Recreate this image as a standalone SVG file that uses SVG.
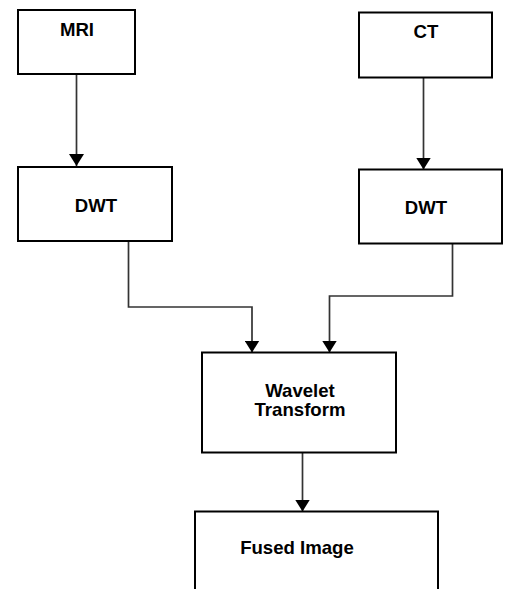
<svg xmlns="http://www.w3.org/2000/svg" width="505" height="589" viewBox="0 0 505 589">
<style>
.box{fill:#fff;stroke:#000;stroke-width:2}
.lbl{font-family:"Liberation Sans",Arial,sans-serif;font-weight:bold;font-size:18.6px;fill:#000;text-anchor:middle}
.con{fill:none;stroke:#333;stroke-width:1.7}
</style>
<defs>
<marker id="ah" viewBox="0 0 12 15" refX="12" refY="7.5" markerWidth="12" markerHeight="15" markerUnits="userSpaceOnUse" orient="auto">
<path d="M0,0 L12,7.5 L0,15 z" fill="#000"/>
</marker>
</defs>
<rect width="505" height="589" fill="#fff"/>
<g id="connectors">
<path class="con" d="M76.5,74 V166" marker-end="url(#ah)"/>
<path class="con" d="M423.5,77.5 V169.5" marker-end="url(#ah)"/>
<path class="con" d="M128.5,241 V307 H252 V352.5" marker-end="url(#ah)"/>
<path class="con" d="M452.5,243.5 V296 H329.5 V352.5" marker-end="url(#ah)"/>
<path class="con" d="M302.5,452.5 V511.5" marker-end="url(#ah)"/>
</g>
<g id="mri">
<rect class="box" x="18" y="10" width="117" height="64"/>
<text class="lbl" x="77" y="36">MRI</text>
</g>
<g id="ct">
<rect class="box" x="359" y="12.5" width="133" height="65"/>
<text class="lbl" x="426" y="37.5">CT</text>
</g>
<g id="dwt1">
<rect class="box" x="18" y="167" width="154" height="74"/>
<text class="lbl" x="96" y="211.5">DWT</text>
</g>
<g id="dwt2">
<rect class="box" x="359" y="169.5" width="143" height="74"/>
<text class="lbl" x="426" y="214">DWT</text>
</g>
<g id="wavelet">
<rect class="box" x="202" y="352.5" width="194" height="100"/>
<text class="lbl" x="300" y="396.5">Wavelet</text>
<text class="lbl" x="300" y="416">Transform</text>
</g>
<g id="fused">
<rect class="box" x="195" y="511.5" width="243" height="100"/>
<text class="lbl" x="297" y="554">Fused Image</text>
</g>
</svg>
